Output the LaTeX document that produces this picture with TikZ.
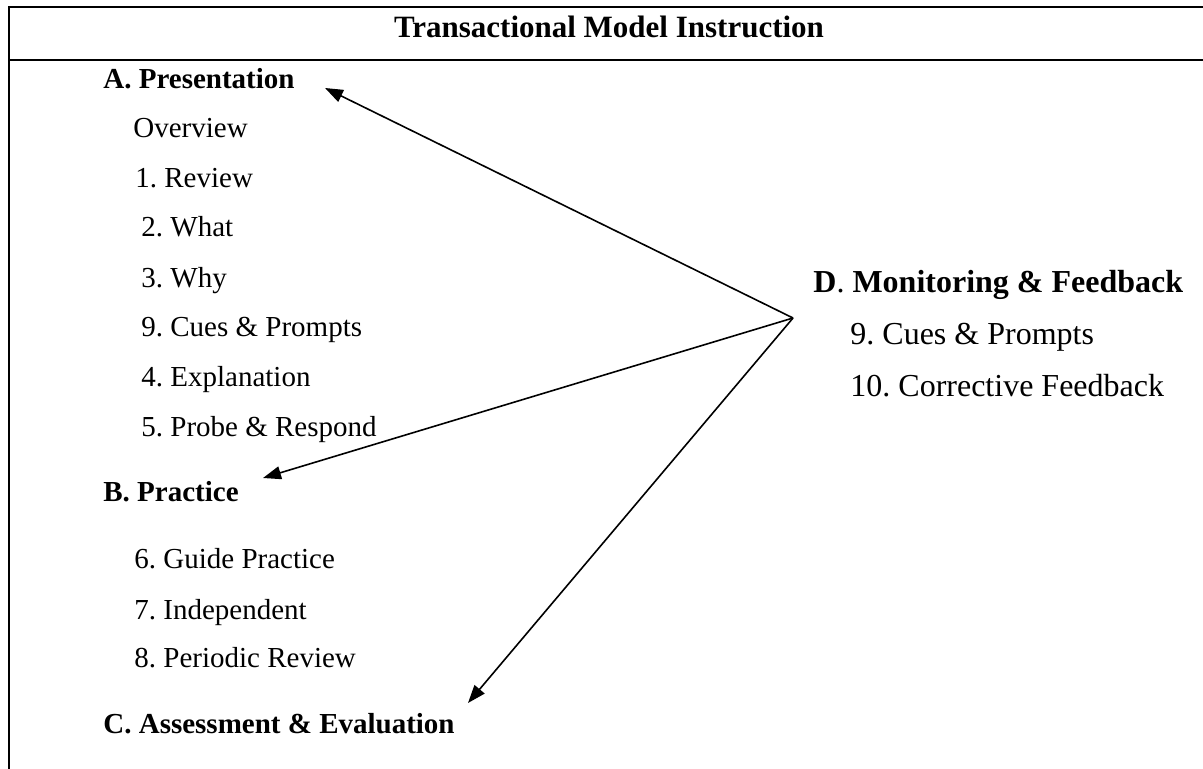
\documentclass[tikz,border=0pt]{standalone}
\usepackage{fontspec}
\setmainfont{Liberation Serif}
\usetikzlibrary{positioning, arrows.meta}
\frenchspacing

\begin{document}
\begin{tikzpicture}[
  x=0.5pt, y=-0.5pt,
  frame/.style={line width=1pt, draw=black},
  title/.style={anchor=base, inner sep=0pt,
                font=\fontsize{15.5}{18}\selectfont\bfseries},
  heading/.style={anchor=base west, inner sep=0pt,
                  font=\fontsize{14.5}{17}\selectfont\bfseries},
  item/.style={anchor=base west, inner sep=0pt,
               font=\fontsize{14.5}{17}\selectfont},
  sidehead/.style={anchor=base west, inner sep=0pt,
                   font=\fontsize{16}{19}\selectfont},
  sideitem/.style={anchor=base west, inner sep=0pt,
                   font=\fontsize{16}{19}\selectfont},
  arrow/.style={-{Triangle[length=9pt, width=6.5pt]}, line width=0.8pt}
]
\useasboundingbox (0,0) rectangle (1203,769);

% Table frame (open on the right below the title row).
\draw[frame] (1203,7) -- (8.5,7) -- (8.5,769);
\draw[frame] (8.5,60) -- (1203,60);

\node[title] (ttl) at (609,38) {Transactional Model Instruction};

% Left column.
\node[heading] (pres)   at (103,89)  {A. Presentation};
\node[item]    (ovw)    at (133,138) {Overview};
\node[item]    (rev)    at (135,188) {1. Review};
\node[item]    (what)   at (141,237) {2. What};
\node[item]    (why)    at (141,288) {3. Why};
\node[item]    (cues)   at (141,337) {9. Cues \& Prompts};
\node[item]    (expl)   at (141,387) {4. Explanation};
\node[item]    (probe)  at (141,437) {5. Probe \& Respond};
\node[heading] (prac)   at (103,502) {B. Practice};
\node[item]    (guide)  at (134,568) {6. Guide Practice};
\node[item]    (indep)  at (134,619) {7. Independent};
\node[item]    (period) at (134,667) {8. Periodic Review};
\node[heading] (assess) at (103,733) {C. Assessment \& Evaluation};

% Right column.
\node[sidehead] (monit) at (813,293) {{\bfseries D}. {\bfseries Monitoring \& Feedback}};
\node[sideitem] (rcues) at (850,345) {9. Cues \& Prompts};
\node[sideitem] (corr)  at (850,397) {10. Corrective Feedback};

% Arrows fanning out from one point.
\coordinate (hub)  at (793,318);
\coordinate (tipA) at (325,88);
\coordinate (tipB) at (263,478);
\coordinate (tipC) at (468,703);

\draw[arrow] (hub) -- (tipA);
\draw[arrow] (hub) -- (tipB);
\draw[arrow] (hub) -- (tipC);

\end{tikzpicture}
\end{document}
